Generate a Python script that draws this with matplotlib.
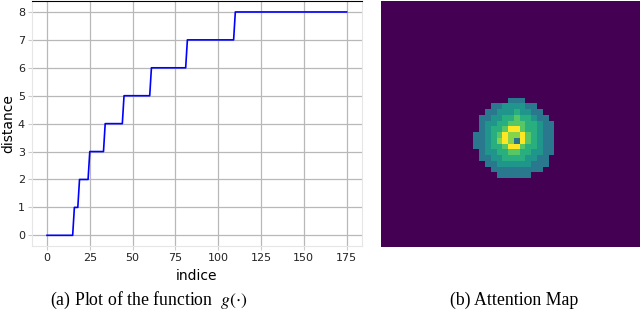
import numpy as np
import matplotlib

matplotlib.use('Agg')

import matplotlib.pyplot as plt

# step function g: index where each distance level starts, last index
step_starts = [0, 16, 19, 25, 34, 45, 61, 82, 110]
step_levels = [0, 1, 2, 3, 4, 5, 6, 7, 8]
last_index = 175

x_ticks = [0, 25, 50, 75, 100, 125, 150, 175]
y_ticks = [0, 1, 2, 3, 4, 5, 6, 7, 8]

# attention map: background grid size and the blob around the peak
map_rows, map_cols = 43, 45
blob_row0, blob_col0 = 17, 16
level_values = [0.0, 0.40, 0.52, 0.63, 0.74, 0.82, 1.0, 0.39]  # 7 = dark centre
blob = [
    [0, 0, 0, 0, 0, 0, 1, 1, 1, 0, 0, 0, 0, 0],
    [0, 0, 0, 1, 1, 2, 2, 2, 2, 1, 1, 0, 0, 0],
    [0, 0, 1, 1, 2, 2, 2, 3, 2, 2, 1, 1, 0, 0],
    [0, 1, 1, 2, 2, 3, 3, 4, 3, 3, 2, 1, 1, 0],
    [0, 1, 2, 2, 3, 3, 4, 4, 4, 3, 3, 2, 1, 1],
    [0, 1, 2, 3, 3, 4, 6, 6, 4, 3, 3, 2, 1, 1],
    [1, 1, 2, 3, 4, 6, 5, 5, 6, 4, 3, 2, 1, 1],
    [1, 1, 2, 3, 5, 6, 5, 7, 6, 4, 3, 2, 1, 1],
    [1, 1, 2, 3, 3, 4, 6, 6, 4, 3, 3, 2, 1, 1],
    [0, 1, 2, 2, 3, 3, 4, 4, 3, 3, 2, 2, 1, 1],
    [0, 1, 1, 2, 2, 3, 3, 3, 3, 2, 2, 1, 1, 0],
    [0, 0, 1, 1, 2, 2, 2, 2, 2, 2, 1, 1, 1, 0],
    [0, 0, 0, 1, 1, 1, 1, 1, 1, 1, 1, 1, 0, 0],
    [0, 0, 0, 0, 1, 1, 1, 1, 1, 1, 0, 0, 0, 0],
]

plt.rcParams['mathtext.fontset'] = 'stix'

counts = np.diff(step_starts + [last_index + 1])
g = np.repeat(step_levels, counts)
idx = np.arange(len(g))

fig = plt.figure(figsize=(6.4, 3.15), dpi=100)

ax = fig.add_axes([0.05, 0.2175, 0.515, 0.78])
ax.plot(idx, g, color='blue', lw=1.2)
ax.set_xticks(x_ticks)
ax.set_yticks(y_ticks)
ax.grid(color='#b8b8b8', lw=0.9)
ax.set_axisbelow(True)
ax.tick_params(labelsize=8, length=3, color='#cccccc', labelcolor='#222222', pad=2)
for side in ['left', 'right', 'bottom']:
    ax.spines[side].set_color('#e6e6e6')
ax.spines['top'].set_color('black')
ax.set_xlabel('indice', fontsize=10, labelpad=4)
ax.set_ylabel('distance', fontsize=10, labelpad=2)

grid = np.zeros((map_rows, map_cols))
levels = np.array(blob)
vals = np.array(level_values)[levels]
h, w = levels.shape
grid[blob_row0:blob_row0 + h, blob_col0:blob_col0 + w] = vals

ax2 = fig.add_axes([0.595, 0.216, 0.405, 0.781])
ax2.imshow(grid, cmap='viridis', vmin=0, vmax=1, aspect='auto',
           interpolation='nearest')
ax2.axis('off')

fig.text(0.232, 0.045, r'(a) Plot of the function  $g(\cdot)$',
         family='Liberation Serif', fontsize=12.8, ha='center', va='center')
fig.text(0.804, 0.045, '(b) Attention Map',
         family='Liberation Serif', fontsize=12.8, ha='center', va='center')

fig.savefig('out.png', dpi=100)
